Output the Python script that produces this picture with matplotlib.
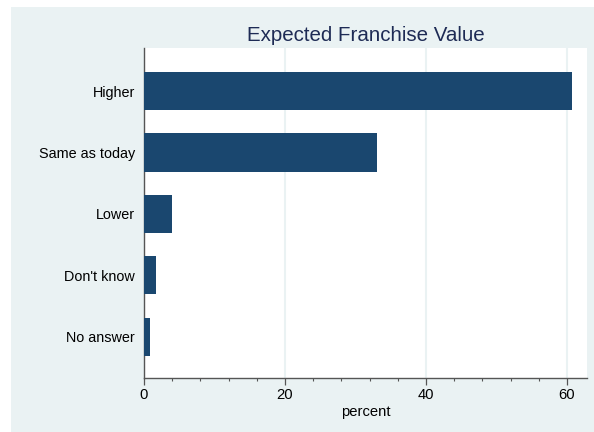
import matplotlib
matplotlib.use("Agg")
import matplotlib.pyplot as plt
from matplotlib.patches import Rectangle
from matplotlib.ticker import MultipleLocator

# percent of respondents
categories = ["Higher", "Same as today", "Lower", "Don't know", "No answer"]
percent = [60.7, 33.1, 4.0, 1.7, 0.85]
x_ticks = [0, 20, 40, 60]

plt.rcParams['font.family'] = ['Liberation Sans', 'DejaVu Sans']

fig = plt.figure(figsize=(5.94, 4.32), dpi=100)
fig.patch.set_facecolor('white')
# Stata-style graph region
fig.add_artist(Rectangle((11 / 594, 0), 1, 1 - 7 / 432, transform=fig.transFigure,
                         facecolor='#eaf2f3', edgecolor='none', zorder=-1))

ax = fig.add_axes([144 / 594, 54 / 432, 443 / 594, 330 / 432])
ax.set_zorder(1)
ax.set_facecolor('white')

ypos = list(range(len(categories)))
ax.barh(ypos, percent, height=0.62, color='#1a476f', zorder=3)

ax.set_yticks(ypos)
ax.set_yticklabels(categories, fontsize=10.4)
ax.set_ylim(4.67, -0.70)
ax.tick_params(axis='y', length=0, pad=6.5)

ax.set_xlim(0, 62.85)
ax.set_xticks(x_ticks)
ax.xaxis.set_minor_locator(MultipleLocator(4))
ax.tick_params(axis='x', which='major', length=5, width=0.9, color='#555555',
               labelsize=10.6, pad=2.5)
ax.tick_params(axis='x', which='minor', length=2.5, width=0.8, color='#555555')
ax.set_xlabel('percent', fontsize=10.6, labelpad=2)

ax.grid(axis='x', color='#eaf2f3', linewidth=1.5, zorder=1)
for s in ['top', 'right']:
    ax.spines[s].set_visible(False)
for s in ['left', 'bottom']:
    ax.spines[s].set_color('#555555')
    ax.spines[s].set_linewidth(1.0)

fig.text((144 + 587) / 2 / 594, 1 - 41 / 432, 'Expected Franchise Value',
         ha='center', va='baseline', fontsize=14.8, color='#1e2b55')

fig.savefig('out.png', dpi=100)
